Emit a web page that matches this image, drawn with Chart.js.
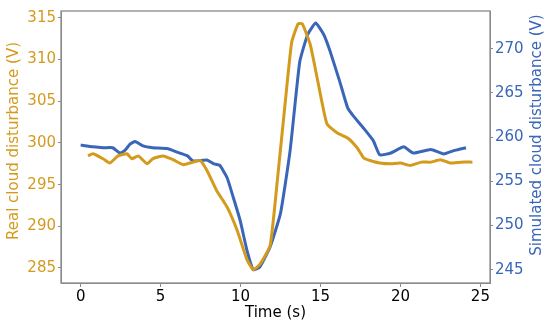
<!DOCTYPE html>
<html>
<head>
<meta charset="utf-8">
<script src="https://cdn.jsdelivr.net/npm/chart.js@4/dist/chart.umd.min.js"></script>
<style>
  body { margin: 0; background: #fff; }
  #wrap { width: 550px; height: 326px; }
</style>
</head>
<body>
<div id="wrap"><canvas id="chart"></canvas></div>
<script>
// Real cloud disturbance (left axis)
const realTime = [0.46, 0.77, 1.4, 1.83, 2.34, 2.9, 3.2, 3.6, 4.15, 4.5, 5.15, 5.78, 6.4, 7.03, 7.47, 7.9,
    8.5, 9.16, 9.79, 10.4, 10.8, 11.2, 11.85, 12.3, 12.8, 13.2, 13.6, 13.86, 14.36, 14.8, 15.4, 16.05,
    16.7, 17.3, 17.7, 18.1, 18.7, 19.4, 20.0, 20.6, 21.3, 21.9, 22.5, 23.1, 23.8, 24.5];
const realVolt = [298.45, 298.7, 298.1, 297.6, 298.45, 298.7, 298.1, 298.45, 297.5, 298.1, 298.45, 298.0, 297.4, 297.7, 297.9, 296.7,
    294.3, 292.3, 289.5, 286.0, 284.8, 285.4, 287.7, 295.5, 305.0, 312.1, 314.3, 314.3, 311.8, 307.7, 302.3, 301.2,
    300.6, 299.4, 298.2, 297.9, 297.6, 297.5, 297.6, 297.3, 297.7, 297.7, 298.0, 297.6, 297.7, 297.7];

// Simulated cloud disturbance (right axis)
const simTime = [0, 0.77, 1.4, 2.0, 2.46, 2.77, 3.09, 3.4, 3.9, 4.5, 5.4, 6.03, 6.66, 7.03, 7.9, 8.3, 8.7,
    9.16, 9.54, 9.97, 10.4, 10.8, 11.2, 11.85, 12.5, 13.1, 13.7, 14.2, 14.7, 15.2, 15.6, 16.2, 16.7,
    17.05, 17.7, 18.3, 18.7, 19.4, 20.2, 20.8, 21.9, 22.7, 23.4, 24.1];
const simVolt = [259.1, 258.9, 258.8, 258.8, 258.2, 258.5, 259.2, 259.5, 259.0, 258.8, 258.7, 258.3, 257.9, 257.3, 257.4, 257.0, 256.8,
    255.4, 253.2, 250.6, 247.2, 245.0, 245.3, 247.6, 251.4, 258.5, 268.5, 271.6, 272.9, 271.6, 269.7, 266.3, 263.3,
    262.4, 261.0, 259.6, 258.0, 258.2, 258.9, 258.2, 258.6, 258.1, 258.5, 258.8];

const xTicks = [0, 5, 10, 15, 20, 25];
const leftTicks = [285, 290, 295, 300, 305, 310, 315];
const rightTicks = [245, 250, 255, 260, 265, 270];

const ORANGE = '#d49a1c';
const BLUE = '#3a66b8';
const FRAME = '#8a8a8a';
const FONT = { family: 'DejaVu Sans', size: 15 };

// turn two arrays into {x, y} points
function toPoints(xs, ys) {
    return xs.map((x, i) => ({ x: x, y: ys[i] }));
}

function fixedTicks(list) {
    return (scale) => { scale.ticks = list.map(v => ({ value: v })); };
}

function sideTitle(ctx, text, color, x, y) {
    ctx.save();
    ctx.translate(x, y);
    ctx.rotate(-Math.PI / 2);
    ctx.fillStyle = color;
    ctx.font = '15px "DejaVu Sans"';
    ctx.textAlign = 'center';
    ctx.textBaseline = 'middle';
    ctx.fillText(text, 0, 0);
    ctx.restore();
}

// box round the plot and both y axis titles (reading bottom-to-top)
const extras = {
    id: 'extras',
    afterDraw(chart) {
        const ctx = chart.ctx;
        const a = chart.chartArea;
        ctx.save();
        ctx.strokeStyle = FRAME;
        ctx.lineWidth = 1.3;
        ctx.strokeRect(a.left, a.top, a.right - a.left, a.bottom - a.top);
        ctx.restore();

        sideTitle(ctx, 'Real cloud disturbance (V)', ORANGE, 14, 141);
        sideTitle(ctx, 'Simulated cloud disturbance (V)', BLUE, 537, 135);
    }
};

new Chart(document.getElementById('chart'), {
    type: 'line',
    data: {
        datasets: [{
            label: 'Real',
            data: toPoints(realTime, realVolt),
            borderColor: ORANGE,
            borderWidth: 3,
            pointRadius: 0,
            tension: 0.15,
            yAxisID: 'y'
        }, {
            label: 'Simulated',
            data: toPoints(simTime, simVolt),
            borderColor: BLUE,
            borderWidth: 3,
            pointRadius: 0,
            tension: 0.15,
            yAxisID: 'y2'
        }]
    },
    options: {
        responsive: true,
        maintainAspectRatio: false,
        animation: false,
        layout: { padding: { top: 9 } },
        plugins: { legend: { display: false }, tooltip: { enabled: false } },
        scales: {
            x: {
                type: 'linear',
                min: -1.23,
                max: 25.6,
                afterBuildTicks: fixedTicks(xTicks),
                afterFit: (s) => { s.height = 43; },
                grid: { drawOnChartArea: false, tickLength: 4, tickColor: FRAME },
                border: { color: FRAME },
                ticks: { color: '#000', font: FONT, padding: 1, maxRotation: 0 },
                title: { display: true, text: 'Time (s)', color: '#000', font: FONT, padding: 4 }
            },
            y: {
                position: 'left',
                min: 283.2,
                max: 315.83,
                afterBuildTicks: fixedTicks(leftTicks),
                afterFit: (s) => { s.width = 61; },
                grid: { drawOnChartArea: false, tickLength: 3, tickColor: FRAME },
                border: { color: FRAME },
                ticks: { color: ORANGE, font: FONT, padding: 2 }
            },
            y2: {
                position: 'right',
                min: 243.5,
                max: 274.26,
                afterBuildTicks: fixedTicks(rightTicks),
                afterFit: (s) => { s.width = 60; },
                grid: { drawOnChartArea: false, tickLength: 3, tickColor: FRAME },
                border: { color: FRAME },
                ticks: { color: BLUE, font: FONT, padding: 2 }
            }
        }
    },
    plugins: [extras]
});
</script>
</body>
</html>
